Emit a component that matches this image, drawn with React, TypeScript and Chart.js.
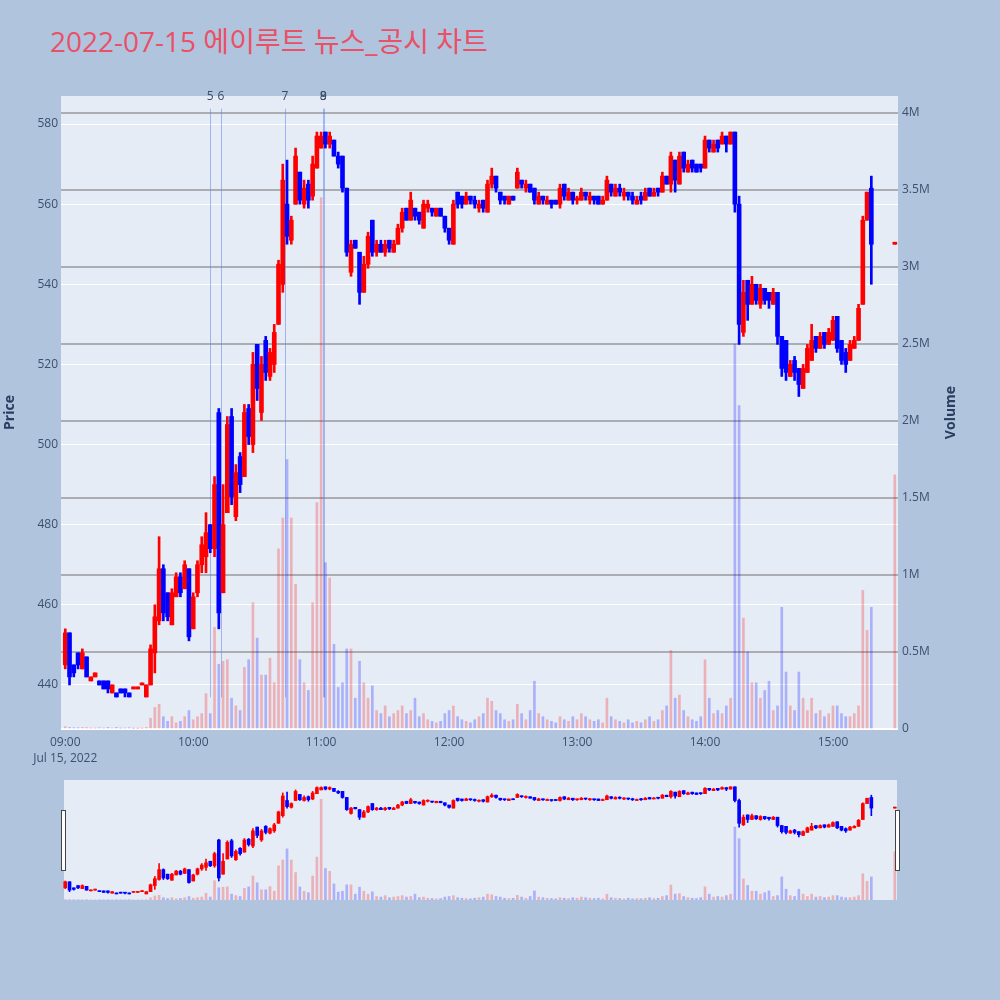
import React, { useEffect, useRef } from "react";
import { Chart, registerables } from "chart.js";

Chart.register(...registerables);
Chart.defaults.font.family = '"Open Sans", "Noto Sans", "Noto Sans CJK KR", sans-serif';

const TITLE = "2022-07-15 에이루트 뉴스_공시 차트";
const DATE_TEXT = "Jul 15, 2022";

// minutes after 09:00
const minutes = [
  0, 2, 4, 6, 8, 10, 12, 14, 16, 18,
  20, 22, 24, 26, 28, 30, 32, 34, 36, 38,
  40, 42, 44, 46, 48, 50, 52, 54, 56, 58,
  60, 62, 64, 66, 68, 70, 72, 74, 76, 78,
  80, 82, 84, 86, 88, 90, 92, 94, 96, 98,
  100, 102, 104, 106, 108, 110, 112, 114, 116, 118,
  120, 122, 124, 126, 128, 130, 132, 134, 136, 138,
  140, 142, 144, 146, 148, 150, 152, 154, 156, 158,
  160, 162, 164, 166, 168, 170, 172, 174, 176, 178,
  180, 182, 184, 186, 188, 190, 192, 194, 196, 198,
  200, 202, 204, 206, 208, 210, 212, 214, 216, 218,
  220, 222, 224, 226, 228, 230, 232, 234, 236, 238,
  240, 242, 244, 246, 248, 250, 252, 254, 256, 258,
  260, 262, 264, 266, 268, 270, 272, 274, 276, 278,
  280, 282, 284, 286, 288, 290, 292, 294, 296, 298,
  300, 302, 304, 306, 308, 310, 312, 314, 316, 318,
  320, 322, 324, 326, 328, 330, 332, 334, 336, 338,
  340, 342, 344, 346, 348, 350, 352, 354, 356, 358,
  360, 362, 364, 366, 368, 370, 372, 374, 376, 378,
  389,
];

const opens = [
  445, 453, 445, 448, 444, 447, 441, 442, 441, 441,
  441, 438, 438, 439, 439, 438, 439, 439, 440, 437,
  440, 448, 456, 469, 463, 455, 462, 467, 464, 469,
  454, 463, 470, 472, 480, 474, 508, 463, 483, 507,
  482, 497, 492, 509, 500, 525, 508, 526, 517, 520,
  530, 540, 560, 551, 560, 568, 560, 565, 562, 569,
  574, 578, 575, 576, 572, 572, 564, 543, 551, 548,
  538, 545, 556, 548, 550, 548, 551, 548, 550, 554,
  559, 556, 559, 558, 554, 559, 559, 557, 559, 557,
  554, 550, 563, 562, 560, 562, 561, 559, 561, 558,
  565, 567, 563, 562, 560, 562, 564, 566, 564, 565,
  564, 560, 562, 560, 561, 561, 560, 565, 561, 563,
  561, 561, 563, 561, 562, 562, 560, 561, 565, 562,
  564, 562, 563, 562, 560, 562, 561, 564, 562, 564,
  563, 567, 565, 571, 565, 573, 568, 571, 570, 570,
  569, 576, 573, 576, 575, 577, 575, 578, 560, 528,
  541, 535, 540, 535, 539, 538, 535, 538, 527, 526,
  517, 521, 519, 514, 518, 521, 527, 524, 528, 525,
  526, 532, 526, 523, 521, 524, 526, 535, 556, 564,
  550,
];

const highs = [
  454, 453, 445, 448, 449, 447, 442, 443, 441, 441,
  441, 440, 438, 439, 439, 438, 439.3, 439.3, 440.3, 440,
  450, 460, 477, 470, 463, 464, 468, 468, 471, 469,
  463, 471, 477, 483, 480, 492, 509, 490, 507, 509,
  495, 498, 510, 510, 523, 525, 522, 527, 524, 530,
  546, 570, 571, 557, 574, 568, 566, 566, 572, 578,
  578, 578, 578, 576, 573, 572, 564, 551, 551, 548,
  547, 553, 556, 551, 551, 551, 551, 551, 555, 559,
  559, 563, 559, 558, 561, 561, 559, 559, 559, 557,
  554, 561, 563, 562, 563, 562, 562, 561, 561, 566,
  569, 567, 563, 562, 562, 562, 569, 566, 566, 565,
  564, 563, 562, 562, 561, 561, 565, 565, 564, 563,
  562, 564, 563, 563, 562, 562, 562, 567, 565, 565,
  565, 564, 563, 563, 562, 563, 564, 564, 564, 564,
  568, 567, 573, 571, 573, 573, 571, 571, 570, 570,
  577, 576, 576, 576, 578, 577, 578, 578, 562, 541,
  541, 542, 540, 540, 539, 538, 539, 538, 527, 526,
  521, 522, 519, 520, 525, 530, 527, 528, 528, 529,
  532, 532, 526, 524, 526, 527, 535, 557, 563, 567,
  550,
];

const lows = [
  444, 440, 442, 444, 444, 442, 441, 442, 440, 439,
  438, 438, 437, 438, 437, 437, 439, 439, 440, 437,
  440, 443, 455, 456, 456, 455, 462, 462, 464, 451,
  454, 462, 468, 468, 473, 472, 454, 463, 483, 485,
  481, 488, 492, 500, 498, 511, 506, 516, 516, 518,
  530, 538, 550, 550, 560, 560, 559, 559, 561, 569,
  574, 574, 574, 572, 569, 563, 547, 542, 549, 535,
  538, 544, 547, 547, 548, 547, 548, 548, 550, 553,
  556, 556, 556, 555, 554, 558, 557, 557, 557, 553,
  550, 550, 559, 559, 560, 560, 559, 558, 558, 558,
  564, 563, 560, 560, 560, 561, 564, 564, 563, 563,
  560, 560, 560, 560, 559, 560, 559, 561, 561, 560,
  560, 561, 561, 560, 560, 560, 560, 561, 562, 562,
  562, 561, 561, 560, 560, 560, 561, 562, 562, 562,
  563, 565, 563, 563, 565, 568, 568, 568, 568, 568,
  569, 573, 573, 573, 575, 573, 575, 558, 525, 527,
  531, 535, 535, 534, 535, 534, 535, 525, 517, 516,
  517, 516, 512, 514, 518, 521, 523, 524, 524, 525,
  526, 523, 520, 518, 521, 524, 526, 535, 556, 540,
  550,
];

const closes = [
  453, 442, 443, 445, 448, 442, 442, 443, 440, 439,
  439, 440, 437, 438, 438, 437, 439.3, 439.3, 440.3, 440,
  449, 457, 469, 458, 457, 463, 467, 463, 470, 452,
  462, 470, 475, 478, 474, 490, 458, 480, 505, 487,
  493, 490, 508, 502, 520, 514, 520, 518, 523, 528,
  545, 566, 552, 556, 572, 561, 564, 561, 570, 577,
  577, 575, 577, 572, 570, 564, 548, 550, 549, 538,
  545, 552, 548, 550, 548, 550, 549, 550, 554, 558,
  556, 561, 557, 556, 560, 560, 558, 559, 557, 554,
  551, 560, 560, 560, 562, 561, 560, 560, 559, 565,
  567, 564, 561, 561, 562, 561, 568, 565, 565, 563,
  561, 562, 561, 561, 560, 560, 564, 562, 563, 561,
  561.5, 563, 562, 562, 561, 560, 561, 566, 563, 564,
  563, 563, 562, 561, 561, 561, 563, 562, 563, 563,
  567, 565, 572, 566, 572, 569, 570, 569, 568, 569,
  576, 574, 575, 574, 577, 575, 578, 560, 530, 538,
  535, 540, 536, 539, 536, 536, 538, 527, 519, 518,
  520, 518, 515, 519, 524, 526, 524, 527, 525, 528,
  531, 524, 521, 520, 525, 526, 534, 556, 563, 550,
  550.3,
];

// volume in millions of shares
const volumesM = [
  0.015, 0.01, 0.008, 0.008, 0.01, 0.008, 0.005, 0.005, 0.008, 0.006,
  0.01, 0.006, 0.01, 0.005, 0.006, 0.008, 0.003, 0.003, 0.004, 0.01,
  0.07, 0.14, 0.16, 0.08, 0.05, 0.08, 0.04, 0.05, 0.08, 0.12,
  0.06, 0.08, 0.1, 0.23, 0.1, 0.66, 0.42, 0.44, 0.45, 0.2,
  0.15, 0.12, 0.4, 0.45, 0.82, 0.59, 0.35, 0.35, 0.46, 0.3,
  1.17, 1.37, 1.75, 1.37, 0.94, 0.45, 0.3, 0.25, 0.82, 1.47,
  3.45, 1.08, 0.98, 0.55, 0.27, 0.3, 0.52, 0.52, 0.2, 0.44,
  0.3, 0.2, 0.28, 0.12, 0.1, 0.15, 0.08, 0.1, 0.12, 0.15,
  0.1, 0.12, 0.2, 0.08, 0.1, 0.06, 0.05, 0.04, 0.05, 0.1,
  0.12, 0.15, 0.08, 0.06, 0.05, 0.04, 0.06, 0.08, 0.1, 0.2,
  0.18, 0.12, 0.1, 0.06, 0.05, 0.06, 0.16, 0.1, 0.06, 0.12,
  0.31, 0.1, 0.08, 0.06, 0.05, 0.04, 0.08, 0.06, 0.05, 0.08,
  0.06, 0.1, 0.08, 0.06, 0.05, 0.06, 0.04, 0.2, 0.08, 0.06,
  0.05, 0.04, 0.06, 0.04, 0.05, 0.04, 0.06, 0.08, 0.05, 0.06,
  0.12, 0.15, 0.51, 0.2, 0.22, 0.12, 0.08, 0.06, 0.05, 0.08,
  0.45, 0.2, 0.1, 0.12, 0.1, 0.15, 0.2, 2.5, 2.1, 0.72,
  0.5, 0.3, 0.3, 0.2, 0.25, 0.31, 0.12, 0.15, 0.79, 0.37,
  0.15, 0.12, 0.37, 0.2, 0.12, 0.2, 0.1, 0.12, 0.08, 0.1,
  0.15, 0.15, 0.1, 0.08, 0.08, 0.1, 0.15, 0.9, 0.64, 0.79,
  1.65,
];

const newsLabels = ["5", "6", "7", "8", "9"];
const newsMinutes = [68, 73, 103, 121, 121.1];

const priceTicks = [440, 460, 480, 500, 520, 540, 560, 580];
const volumeTicks = [0, 0.5, 1, 1.5, 2, 2.5, 3, 3.5, 4];
const timeTicks = [0, 60, 120, 180, 240, 300, 360];

const X_MIN = -2;
const X_MAX = 390.5;
const P_MIN = 429;
const P_MAX = 587;
const V_MAX = 4.11;

const RED = "#FF0000";
const BLUE = "#0000FF";
const RED_V = "rgba(255,0,0,0.25)";
const BLUE_V = "rgba(0,0,255,0.25)";
const TICK_COLOR = "#3f4f6b";
const TITLE_COLOR = "#2a3f5f";

function fmtTime(v: number): string {
  const h = 9 + Math.floor(v / 60);
  const m = Math.round(v % 60);
  return `${String(h).padStart(2, "0")}:${String(m).padStart(2, "0")}`;
}

function makeDatasets(bodyW: number, wickW: number, volW: number, minLen: number): any[] {
  const up = closes.map((c, i) => c >= opens[i]);
  const colors = up.map((u) => (u ? RED : BLUE));
  const vColors = up.map((u) => (u ? RED_V : BLUE_V));
  return [
    {
      type: "bar",
      data: minutes.map((m, i) => ({ x: m, y: volumesM[i] })),
      yAxisID: "yv",
      backgroundColor: vColors,
      barThickness: volW,
      grouped: false,
      order: 3,
      borderWidth: 0,
    },
    {
      type: "bar",
      data: minutes.map((m, i) => ({ x: m, y: [lows[i], highs[i]] })),
      yAxisID: "y",
      backgroundColor: colors,
      barThickness: wickW,
      grouped: false,
      order: 2,
      borderWidth: 0,
      minBarLength: minLen,
    },
    {
      type: "bar",
      data: minutes.map((m, i) => ({ x: m, y: [opens[i], closes[i]] })),
      yAxisID: "y",
      backgroundColor: colors,
      barThickness: bodyW,
      grouped: false,
      order: 1,
      borderWidth: 0,
      minBarLength: minLen,
    },
  ];
}

const plotBgPlugin = {
  id: "plotBg",
  beforeDraw(chart: any, _args: any, opts: any) {
    const { ctx, chartArea: a } = chart;
    const x0 = opts && typeof opts.x0 === "number" ? opts.x0 : a.left;
    const x1 = opts && typeof opts.x1 === "number" ? opts.x1 : a.right;
    ctx.save();
    ctx.fillStyle = "#E5ECF6";
    ctx.fillRect(x0, a.top, x1 - x0, a.bottom - a.top);
    ctx.restore();
  },
};

const newsPlugin = {
  id: "news",
  beforeDatasetsDraw(chart: any) {
    const { ctx, chartArea: a, scales } = chart;
    const h = a.bottom - a.top;
    ctx.save();
    ctx.strokeStyle = "rgba(90,125,235,0.5)";
    ctx.lineWidth = 1;
    newsMinutes.forEach((m) => {
      const px = Math.round(scales.x.getPixelForValue(m)) + 0.5;
      ctx.beginPath();
      ctx.moveTo(px, a.top + 0.02 * h);
      ctx.lineTo(px, a.bottom - 0.05 * h);
      ctx.stroke();
    });
    ctx.restore();
  },
  afterDatasetsDraw(chart: any) {
    const { ctx, chartArea: a, scales } = chart;
    ctx.save();
    ctx.fillStyle = "#3b4a63";
    ctx.font = '12px "Open Sans", sans-serif';
    ctx.textAlign = "center";
    ctx.textBaseline = "middle";
    newsMinutes.forEach((m, i) => {
      ctx.fillText(newsLabels[i], scales.x.getPixelForValue(m), a.top + 1);
    });
    ctx.restore();
  },
};

const axisTitlePlugin = {
  id: "axisTitles",
  afterDraw(chart: any) {
    const { ctx, chartArea: a } = chart;
    const cy = (a.top + a.bottom) / 2;
    ctx.save();
    ctx.fillStyle = TITLE_COLOR;
    ctx.font = 'bold 14px "Open Sans", sans-serif';
    ctx.textAlign = "center";
    ctx.textBaseline = "middle";
    const items: [number, string][] = [
      [10, "Price"],
      [951, "Volume"],
    ];
    items.forEach(([x, t]) => {
      ctx.save();
      ctx.translate(x, cy);
      ctx.rotate(-Math.PI / 2);
      ctx.fillText(t, 0, 0);
      ctx.restore();
    });
    ctx.restore();
  },
};

const handlesPlugin = {
  id: "handles",
  afterDraw(chart: any) {
    const { ctx } = chart;
    ctx.save();
    ctx.fillStyle = "#FFFFFF";
    ctx.strokeStyle = "#444444";
    ctx.lineWidth = 1;
    [61.5, 895.5].forEach((x) => {
      ctx.fillRect(x, 40.5, 4, 60);
      ctx.strokeRect(x, 40.5, 4, 60);
    });
    ctx.restore();
  },
};

function mainConfig(): any {
  return {
    type: "bar",
    data: { datasets: makeDatasets(4, 2, 2, 2) },
    options: {
      responsive: false,
      animation: false,
      events: [],
      layout: { padding: { top: 96, right: 39, left: 0, bottom: 0 } },
      plugins: {
        legend: { display: false },
        tooltip: { enabled: false },
        plotBg: {},
      },
      scales: {
        x: {
          type: "linear",
          min: X_MIN,
          max: X_MAX,
          offset: false,
          grid: { display: false, drawTicks: false, offset: false },
          border: { display: false },
          afterBuildTicks: (s: any) => {
            s.ticks = timeTicks.map((v) => ({ value: v }));
          },
          afterFit: (s: any) => {
            s.height = 41;
          },
          ticks: {
            padding: 5,
            color: TICK_COLOR,
            font: { size: 12, lineHeight: 1.35 },
            maxRotation: 0,
            autoSkip: false,
            callback: (v: any) => (v === 0 ? [fmtTime(v), DATE_TEXT] : fmtTime(v)),
          },
        },
        y: {
          position: "left",
          min: P_MIN,
          max: P_MAX,
          grid: { color: "#FFFFFF", lineWidth: 1, drawTicks: false },
          border: { display: false },
          afterBuildTicks: (s: any) => {
            s.ticks = priceTicks.map((v) => ({ value: v }));
          },
          afterFit: (s: any) => {
            s.width = 61;
          },
          ticks: { padding: 3, color: TICK_COLOR, font: { size: 12 }, callback: (v: any) => String(v) },
        },
        yv: {
          position: "right",
          min: 0,
          max: V_MAX,
          grid: {
            color: (c: any) => (c.tick && c.tick.value === 0 ? "#FFFFFF" : "#ABADB3"),
            lineWidth: 2,
            drawTicks: false,
          },
          border: { display: false },
          afterBuildTicks: (s: any) => {
            s.ticks = volumeTicks.map((v) => ({ value: v }));
          },
          afterFit: (s: any) => {
            s.width = 63;
          },
          ticks: {
            padding: 4,
            color: TICK_COLOR,
            font: { size: 12 },
            callback: (v: any) => (v === 0 ? "0" : `${v}M`),
          },
        },
      },
    },
    plugins: [plotBgPlugin, newsPlugin, axisTitlePlugin],
  };
}

function sliderConfig(): any {
  return {
    type: "bar",
    data: { datasets: makeDatasets(3, 1, 2, 1) },
    options: {
      responsive: false,
      animation: false,
      events: [],
      layout: { padding: { top: 10, bottom: 10, left: 61, right: 102 } },
      plugins: {
        legend: { display: false },
        tooltip: { enabled: false },
        plotBg: { x0: 64, x1: 897 },
      },
      scales: {
        x: { type: "linear", min: X_MIN, max: X_MAX, offset: false, display: false, grid: { offset: false } },
        y: { min: P_MIN, max: P_MAX, display: false },
        yv: { min: 0, max: V_MAX, display: false },
      },
    },
    plugins: [plotBgPlugin, handlesPlugin],
  };
}

export default function App() {
  const mainRef = useRef<HTMLCanvasElement>(null);
  const sliderRef = useRef<HTMLCanvasElement>(null);

  useEffect(() => {
    const charts: Chart[] = [];
    if (mainRef.current) charts.push(new Chart(mainRef.current, mainConfig()));
    if (sliderRef.current) charts.push(new Chart(sliderRef.current, sliderConfig()));
    return () => charts.forEach((c) => c.destroy());
  }, []);

  return (
    <div
      style={{
        position: "absolute",
        left: 0,
        top: 0,
        width: 1000,
        height: 1000,
        background: "#B0C4DE",
        overflow: "hidden",
      }}
    >
      <div
        style={{
          position: "absolute",
          left: 50,
          top: 27,
          fontSize: 28,
          lineHeight: "28px",
          color: "#EA5066",
          fontFamily: '"Open Sans", "Noto Sans CJK KR", sans-serif',
          whiteSpace: "nowrap",
        }}
      >
        {TITLE}
      </div>
      <canvas
        ref={mainRef}
        width={1000}
        height={770}
        style={{ position: "absolute", left: 0, top: 0, width: 1000, height: 770 }}
      />
      <canvas
        ref={sliderRef}
        width={1000}
        height={140}
        style={{ position: "absolute", left: 0, top: 770, width: 1000, height: 140 }}
      />
    </div>
  );
}
